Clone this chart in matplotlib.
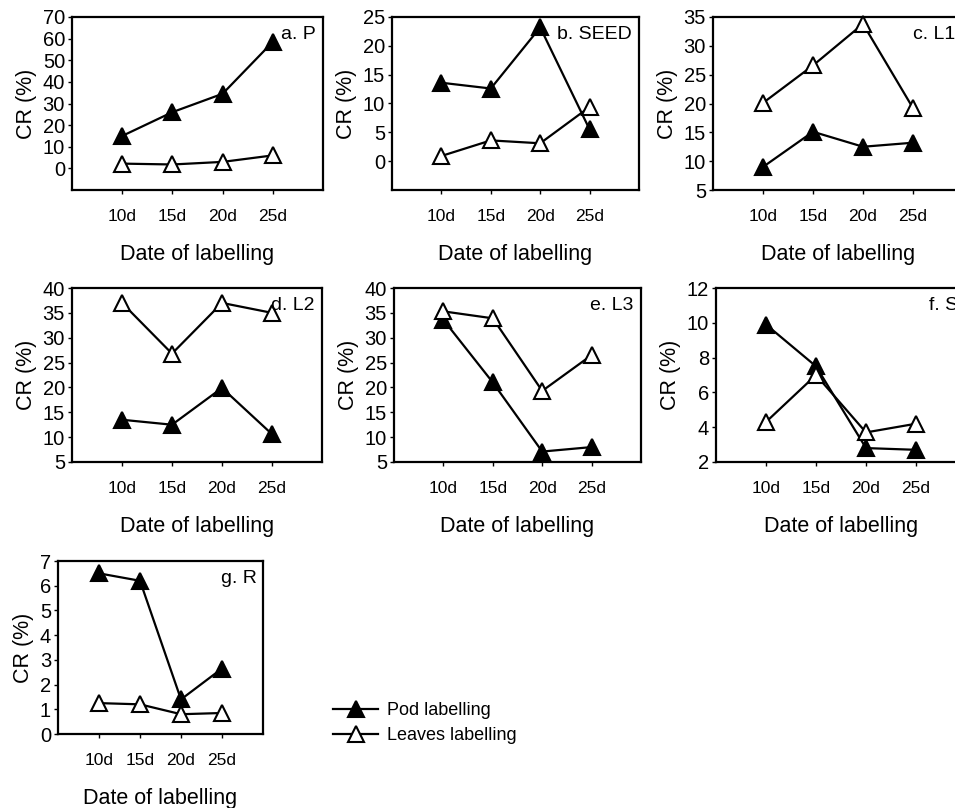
import matplotlib
matplotlib.use("Agg")
import matplotlib.pyplot as plt

plt.rcParams['font.family'] = ['Liberation Sans', 'DejaVu Sans']

days = ['10d', '15d', '20d', '25d']
x = [1, 2, 3, 4]

# CR (%), pod labelling / leaves labelling
pod_P = [15, 26, 34.5, 58.5]
leaves_P = [2.2, 1.8, 3, 6]
pod_SEED = [13.6, 12.6, 23.2, 5.5]
leaves_SEED = [0.9, 3.6, 3.1, 9.4]
pod_L1 = [9, 15.1, 12.5, 13.2]
leaves_L1 = [20.1, 26.6, 33.8, 19.2]
pod_L2 = [13.5, 12.5, 19.9, 10.6]
leaves_L2 = [37, 26.8, 37, 35]
pod_L3 = [33.6, 21, 7.1, 8]
leaves_L3 = [35.3, 33.9, 19.3, 26.5]
pod_S = [9.9, 7.5, 2.8, 2.7]
leaves_S = [4.3, 7, 3.7, 4.2]
pod_R = [6.5, 6.2, 1.4, 2.65]
leaves_R = [1.25, 1.2, 0.8, 0.85]

W, H = 955, 808
fig = plt.figure(figsize=(W / 100, H / 100), dpi=100)


def panel(px, py, pw, ph, pod, leaves, ylim, yticks, name):
    ax = fig.add_axes([px / W, 1 - (py + ph) / H, pw / W, ph / H])
    l1, = ax.plot(x, pod, color='black', lw=1.6, marker='^', ms=11,
                  mfc='black', mec='black', mew=1.5, clip_on=False, zorder=3)
    l2, = ax.plot(x, leaves, color='black', lw=1.6, marker='^', ms=11,
                  mfc='white', mec='black', mew=1.5, clip_on=False, zorder=3)
    ax.set_xlim(0, 5)
    ax.set_ylim(*ylim)
    ax.set_xticks(x)
    ax.set_xticklabels(days)
    ax.set_yticks(yticks)
    ax.tick_params(axis='x', length=3, width=1, pad=11, labelsize=12.5)
    ax.tick_params(axis='y', length=3, width=1, pad=2, labelsize=14.5)
    for s in ax.spines.values():
        s.set_linewidth(1.6)
    ax.set_xlabel('Date of labelling', fontsize=15.5, labelpad=14)
    ax.set_ylabel('CR (%)', fontsize=15.5, labelpad=4)
    ax.text(0.97, 0.95, name, transform=ax.transAxes, ha='right', va='top',
            fontsize=14, clip_on=False)
    return l1, l2


panel(72, 17, 251, 173, pod_P, leaves_P, (-10, 70), range(0, 71, 10), 'a. P')
panel(392, 17, 247, 173, pod_SEED, leaves_SEED, (-5, 25), range(0, 26, 5), 'b. SEED')
panel(713, 17, 250, 173, pod_L1, leaves_L1, (5, 35), range(5, 36, 5), 'c. L1')
panel(72, 288, 250, 174, pod_L2, leaves_L2, (5, 40), range(5, 41, 5), 'd. L2')
panel(394, 288, 247, 174, pod_L3, leaves_L3, (5, 40), range(5, 41, 5), 'e. L3')
panel(716, 288, 250, 174, pod_S, leaves_S, (2, 12), range(2, 13, 2), 'f. S')
h1, h2 = panel(58, 561, 205, 173, pod_R, leaves_R, (0, 7), range(0, 8), 'g. R')

fig.legend([h1, h2], ['Pod labelling', 'Leaves labelling'], loc='upper left',
           bbox_to_anchor=(333 / W, 1 - 702 / H), frameon=False, fontsize=13,
           handlelength=2.5, handletextpad=0.5, labelspacing=0.45,
           borderpad=0, borderaxespad=0)

fig.savefig('out.png', dpi=100)
